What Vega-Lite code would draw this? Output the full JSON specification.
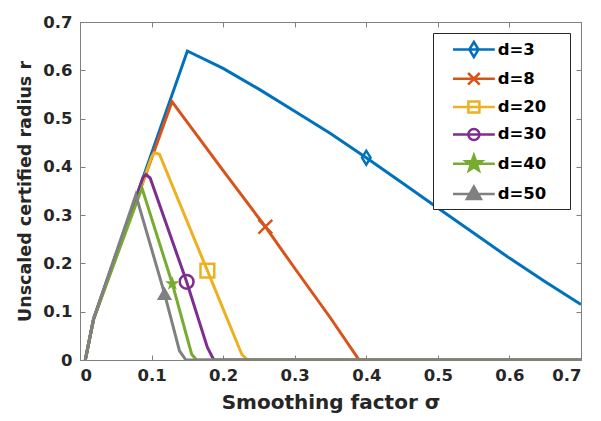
{
  "$schema": "https://vega.github.io/schema/vega-lite/v6.json",
  "width": 501,
  "height": 338,
  "autosize": {"type": "none"},
  "padding": {"left": 80, "top": 22, "right": 20, "bottom": 61},
  "background": "white",
  "config": {
    "font": "DejaVu Sans",
    "view": {"stroke": "#808080", "strokeWidth": 1},
    "axis": {"grid": false, "domain": false, "tickColor": "#808080", "tickSize": -5, "tickWidth": 1,
      "labelFont": "DejaVu Sans", "labelFontWeight": "bold", "labelFontSize": 16.5, "labelColor": "#262626",
      "titleFont": "DejaVu Sans", "titleFontWeight": "bold", "titleFontSize": 18, "titleColor": "#262626"}
  },
  "datasets": {
    "lines": [
      {"d": "d=3", "x": 0.0074, "y": 0}, {"d": "d=3", "x": 0.019, "y": 0.085}, {"d": "d=3", "x": 0.15, "y": 0.64},
      {"d": "d=3", "x": 0.2, "y": 0.604}, {"d": "d=3", "x": 0.25, "y": 0.561}, {"d": "d=3", "x": 0.3, "y": 0.515},
      {"d": "d=3", "x": 0.35, "y": 0.469}, {"d": "d=3", "x": 0.4, "y": 0.419}, {"d": "d=3", "x": 0.45, "y": 0.367},
      {"d": "d=3", "x": 0.5, "y": 0.315}, {"d": "d=3", "x": 0.55, "y": 0.263}, {"d": "d=3", "x": 0.6, "y": 0.211},
      {"d": "d=3", "x": 0.65, "y": 0.162}, {"d": "d=3", "x": 0.7, "y": 0.115},
      {"d": "d=8", "x": 0.0074, "y": 0}, {"d": "d=8", "x": 0.019, "y": 0.085}, {"d": "d=8", "x": 0.1285, "y": 0.535},
      {"d": "d=8", "x": 0.2, "y": 0.392}, {"d": "d=8", "x": 0.259, "y": 0.276}, {"d": "d=8", "x": 0.3, "y": 0.19},
      {"d": "d=8", "x": 0.35, "y": 0.087}, {"d": "d=8", "x": 0.39, "y": 0}, {"d": "d=8", "x": 0.7, "y": 0},
      {"d": "d=20", "x": 0.0074, "y": 0}, {"d": "d=20", "x": 0.019, "y": 0.085}, {"d": "d=20", "x": 0.1, "y": 0.42},
      {"d": "d=20", "x": 0.104, "y": 0.429}, {"d": "d=20", "x": 0.111, "y": 0.426}, {"d": "d=20", "x": 0.178, "y": 0.185},
      {"d": "d=20", "x": 0.226, "y": 0.012}, {"d": "d=20", "x": 0.234, "y": 0}, {"d": "d=20", "x": 0.7, "y": 0},
      {"d": "d=30", "x": 0.0074, "y": 0}, {"d": "d=30", "x": 0.019, "y": 0.085}, {"d": "d=30", "x": 0.088, "y": 0.378},
      {"d": "d=30", "x": 0.092, "y": 0.384}, {"d": "d=30", "x": 0.098, "y": 0.377}, {"d": "d=30", "x": 0.149, "y": 0.162},
      {"d": "d=30", "x": 0.178, "y": 0.026}, {"d": "d=30", "x": 0.187, "y": 0}, {"d": "d=30", "x": 0.7, "y": 0},
      {"d": "d=40", "x": 0.0074, "y": 0}, {"d": "d=40", "x": 0.019, "y": 0.085}, {"d": "d=40", "x": 0.0866, "y": 0.356},
      {"d": "d=40", "x": 0.129, "y": 0.158}, {"d": "d=40", "x": 0.156, "y": 0.012}, {"d": "d=40", "x": 0.163, "y": 0},
      {"d": "d=40", "x": 0.7, "y": 0},
      {"d": "d=50", "x": 0.0074, "y": 0}, {"d": "d=50", "x": 0.019, "y": 0.085}, {"d": "d=50", "x": 0.078, "y": 0.342},
      {"d": "d=50", "x": 0.118, "y": 0.138}, {"d": "d=50", "x": 0.139, "y": 0.019}, {"d": "d=50", "x": 0.148, "y": 0},
      {"d": "d=50", "x": 0.7, "y": 0}
    ],
    "markers": [
      {"d": "d=3", "x": 0.4, "y": 0.419},
      {"d": "d=8", "x": 0.259, "y": 0.276},
      {"d": "d=20", "x": 0.178, "y": 0.185},
      {"d": "d=30", "x": 0.149, "y": 0.162},
      {"d": "d=40", "x": 0.129, "y": 0.158},
      {"d": "d=50", "x": 0.118, "y": 0.138}
    ]
  },
  "layer": [
    {
      "data": {"name": "lines"},
      "mark": {"type": "line", "strokeWidth": 3, "clip": true},
      "encoding": {
        "x": {"field": "x", "type": "quantitative", "scale": {"domain": [0, 0.7], "nice": false, "zero": false},
          "axis": {"orient": "bottom", "values": [0, 0.1, 0.2, 0.3, 0.4, 0.5, 0.6, 0.7], "format": ".1~f", "labelPadding": 12, "title": "Smoothing factor σ", "titlePadding": 9, "titleFontSize": 20}},
        "y": {"field": "y", "type": "quantitative", "scale": {"domain": [0, 0.7], "nice": false},
          "axis": {"orient": "left", "values": [0, 0.1, 0.2, 0.3, 0.4, 0.5, 0.6, 0.7], "format": ".1~f", "labelPadding": 13, "title": "Unscaled certified radius r", "titlePadding": 8, "titleFontSize": 17.5}},
        "color": {"field": "d", "type": "nominal",
          "scale": {"domain": ["d=3", "d=8", "d=20", "d=30", "d=40", "d=50"], "range": ["#0072BD", "#D95319", "#EDB120", "#7E2F8E", "#77AC30", "#808080"]},
          "legend": {
            "orient": "none", "legendX": 353, "legendY": 11, "title": null,
            "symbolSize": 400, "symbolStrokeWidth": 2.5, "symbolType": "stroke",
            "labelFont": "DejaVu Sans", "labelFontWeight": "bold", "labelFontSize": 16.5, "labelColor": "#000000",
            "padding": 5, "rowPadding": 5.3, "labelOffset": 36.7,
            "fillColor": "white", "strokeColor": "#262626",
            "encode": {
              "labels": {"update": {"text": {"signal": "datum.label + '\u00a0\u2800'"}}},
              "symbols": {"update": {
              "shape": {"signal": "datum.value==='d=3' ? 'M0.35,0L4.53,0M2.44,-0.75L2.9,0L2.44,0.75L1.98,0Z' : datum.value==='d=8' ? 'M0.35,0L4.53,0M1.86,-0.58L3.02,0.58M1.86,0.58L3.02,-0.58' : datum.value==='d=20' ? 'M0.35,0L4.53,0M1.89,-0.55L2.99,-0.55L2.99,0.55L1.89,0.55Z' : datum.value==='d=30' ? 'M0.35,0L4.53,0M1.89,0A0.55,0.55 0 1,0 2.99,0A0.55,0.55 0 1,0 1.89,0' : datum.value==='d=40' ? 'M0.35,0L4.53,0M2.44,-0.85L2.642,-0.278L3.248,-0.263L2.767,0.106L2.94,0.688L2.44,0.344L1.94,0.688L2.113,0.106L1.632,-0.263L2.238,-0.278Z' : 'M0.35,0L4.53,0M2.44,-0.75L3.14,0.5L1.74,0.5Z'"},
              "fillOpacity": {"signal": "(datum.value==='d=40' || datum.value==='d=50') ? 1 : 0"}
            }}}
          }}
      }
    },
    {
      "data": {"name": "markers"},
      "transform": [{"filter": "datum.d !== 'd=40' && datum.d !== 'd=50'"}],
      "mark": {"type": "point", "filled": false, "strokeWidth": 2.5, "size": 190, "opacity": 1},
      "encoding": {
        "x": {"field": "x", "type": "quantitative", "axis": {"orient": "top", "values": [0, 0.1, 0.2, 0.3, 0.4, 0.5, 0.6, 0.7], "labels": false, "title": null}},
        "y": {"field": "y", "type": "quantitative", "axis": {"orient": "right", "values": [0, 0.1, 0.2, 0.3, 0.4, 0.5, 0.6, 0.7], "labels": false, "title": null}},
        "color": {"field": "d", "type": "nominal", "legend": null},
        "shape": {"field": "d", "type": "nominal", "legend": null,
          "scale": {"domain": ["d=3", "d=8", "d=20", "d=30"], "range": ["M0,-1L0.62,0L0,1L-0.62,0Z", "M-1,-1L1,1M-1,1L1,-1", "square", "circle"]}}
      }
    },
    {
      "data": {"name": "markers"},
      "transform": [{"filter": "datum.d === 'd=40' || datum.d === 'd=50'"}],
      "mark": {"type": "point", "filled": true, "strokeWidth": 1.5, "size": 230, "opacity": 1},
      "encoding": {
        "x": {"field": "x", "type": "quantitative", "axis": null},
        "y": {"field": "y", "type": "quantitative", "axis": null},
        "color": {"field": "d", "type": "nominal", "legend": null},
        "shape": {"field": "d", "type": "nominal", "legend": null,
          "scale": {"domain": ["d=40", "d=50"], "range": ["M0,-1L0.24,-0.33L0.95,-0.31L0.38,0.13L0.59,0.81L0,0.4L-0.59,0.81L-0.38,0.13L-0.95,-0.31L-0.24,-0.33Z", "triangle-up"]}}
      }
    }
  ],
  "resolve": {"axis": {"x": "independent", "y": "independent"}, "scale": {"shape": "independent"}}
}
